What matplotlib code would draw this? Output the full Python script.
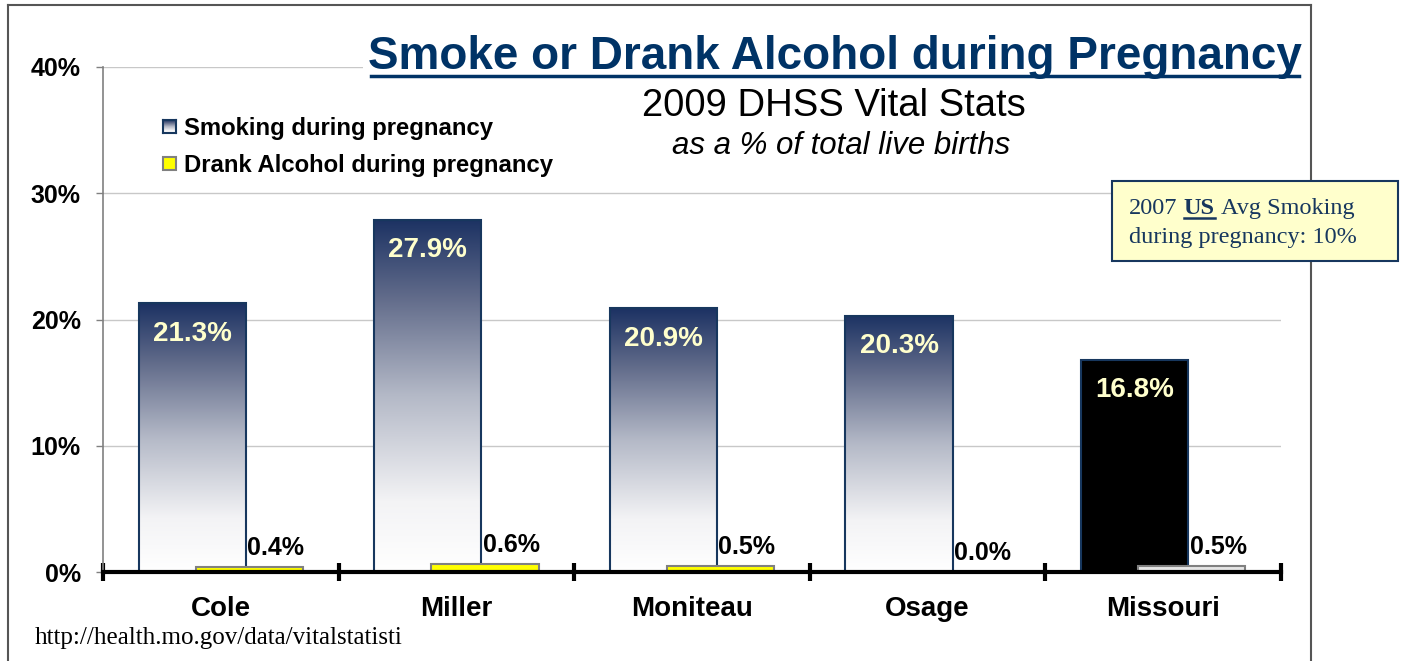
import numpy as np
import matplotlib
matplotlib.use('Agg')
from matplotlib import pyplot as plt
from matplotlib.colors import LinearSegmentedColormap
from matplotlib.patches import Rectangle
from matplotlib.lines import Line2D

# data
counties = ['Cole', 'Miller', 'Moniteau', 'Osage', 'Missouri']
smoking = [21.3, 27.9, 20.9, 20.3, 16.8]
alcohol = [0.4, 0.6, 0.5, 0.0, 0.5]
yticks = [0, 10, 20, 30, 40]

W, H = 1401, 661
NAVY = '#17375E'
TITLE_BLUE = '#003366'

plt.rcParams['font.family'] = ['Liberation Sans', 'DejaVu Sans']

fig = plt.figure(figsize=(W / 100, H / 100), dpi=100)
fig.patch.set_facecolor('white')


def fx(px):
    return px / W


def fy(py):
    return 1 - py / H


ax = fig.add_axes([fx(103), fy(572), fx(1281) - fx(103), fy(67) - fy(572)])
ax.set_xlim(-0.5, len(counties) - 0.5)
ax.set_ylim(0, 40)

grad = LinearSegmentedColormap.from_list(
    'smk', [(0, '#FFFFFF'), (0.2, '#F3F3F5'), (0.5, '#B4B9C7'),
            (0.78, '#616B8A'), (1, '#1C3263')])
ramp = np.linspace(1, 0, 256).reshape(-1, 1)

bw = 0.455
off = 0.121
x = np.arange(len(counties))

for i, v in enumerate(smoking):
    x0 = x[i] - off - bw / 2
    if counties[i] == 'Missouri':
        ax.bar(x[i] - off, v, bw, color='black', edgecolor=NAVY,
               linewidth=1.5, zorder=3)
    else:
        ax.imshow(ramp, cmap=grad, aspect='auto', extent=[x0, x0 + bw, 0, v],
                  zorder=2, interpolation='bilinear')
        ax.bar(x[i] - off, v, bw, fill=False, edgecolor=NAVY,
               linewidth=1.5, zorder=3)
    ax.annotate(f'{v:.1f}%', (x[i] - off, v), xytext=(0, -22),
                textcoords='offset points', ha='center', va='center',
                color='#FFFFCC', fontsize=20, fontweight='bold', zorder=5)

for i, v in enumerate(alcohol):
    fc = '#E6E6E6' if counties[i] == 'Missouri' else '#FFFF00'
    if v > 0:
        ax.bar(x[i] + off, v, bw, color=fc, edgecolor='#808080',
               linewidth=1.5, zorder=4)
    ax.annotate(f'{v:.1f}%', (x[i] + off, v), xytext=(19, 5),
                textcoords='offset points', ha='center', va='bottom',
                color='black', fontsize=18, fontweight='bold', zorder=5)

# axes styling
ax.set_yticks(yticks)
ax.set_yticklabels([f'{t}%' for t in yticks], fontsize=18, fontweight='bold')
ax.tick_params(axis='y', length=5, color='#808080', width=1, pad=11)
ax.yaxis.grid(True, color='#C8C8C8', linewidth=1)
ax.set_axisbelow(True)

ax.set_xticks(x)
ax.set_xticklabels(counties, fontsize=20, fontweight='bold')
ax.set_xticks(np.arange(-0.5, len(counties)), minor=True)
ax.tick_params(axis='x', which='major', length=0, pad=17)
ax.tick_params(axis='x', which='minor', direction='inout', length=13,
               width=3, color='black')

for s in ['top', 'right']:
    ax.spines[s].set_visible(False)
ax.spines['left'].set_color('#808080')
ax.spines['left'].set_linewidth(1.2)
ax.spines['bottom'].set_color('black')
ax.spines['bottom'].set_linewidth(3)
ax.spines['bottom'].set_zorder(6)

# outer frame (open at the bottom)
frame = dict(color='#555555', linewidth=1.5, transform=fig.transFigure)
fig.add_artist(Line2D([fx(8), fx(8)], [0, fy(5)], **frame))
fig.add_artist(Line2D([fx(8), fx(1311)], [fy(5), fy(5)], **frame))
fig.add_artist(Line2D([fx(1311), fx(1311)], [fy(5), 0], **frame))

# title
title = fig.text(fx(835), fy(69), 'Smoke or Drank Alcohol during Pregnancy',
                 ha='center', va='baseline', fontsize=33, fontweight='bold',
                 color=TITLE_BLUE,
                 bbox=dict(facecolor='white', edgecolor='none', pad=4))
fig.text(fx(834), fy(116), '2009 DHSS Vital Stats', ha='center',
         va='baseline', fontsize=27.5, color='black')
fig.text(fx(841), fy(154), 'as a % of total live births', ha='center',
         va='baseline', fontsize=22.5, style='italic', color='black')

# legend
leg_ax = fig.add_axes([fx(163), fy(133), fx(176) - fx(163), fy(120) - fy(133)])
leg_ax.imshow(ramp, cmap=grad, aspect='auto', extent=[0, 1, 0, 1])
leg_ax.set_xticks([])
leg_ax.set_yticks([])
for s in leg_ax.spines.values():
    s.set_color(NAVY)
    s.set_linewidth(1.5)
fig.add_artist(Rectangle((fx(163), fy(170)), fx(176) - fx(163),
                         fy(157) - fy(170), facecolor='#FFFF00',
                         edgecolor='#808080', linewidth=1.5,
                         transform=fig.transFigure))
fig.text(fx(184), fy(135), 'Smoking during pregnancy', fontsize=17.2,
         fontweight='bold', va='baseline')
fig.text(fx(184), fy(172), 'Drank Alcohol during pregnancy', fontsize=17.2,
         fontweight='bold', va='baseline')

# US average box
fig.add_artist(Rectangle((fx(1112), fy(261)), fx(1398) - fx(1112),
                         fy(181) - fy(261), facecolor='#FFFFCC',
                         edgecolor=NAVY, linewidth=1.5,
                         transform=fig.transFigure, zorder=10))
serif = dict(family=['Liberation Serif', 'DejaVu Serif'], fontsize=17.5,
             color=NAVY, zorder=11)
t1 = fig.text(fx(1129), fy(214), '2007', va='baseline', **serif)
us = plt.annotate('US', xy=(1, 0), xycoords=t1, xytext=(4.4, 0),
                  textcoords='offset points', va='bottom', fontweight='bold',
                  annotation_clip=False, **serif)
fig.add_artist(us)
rest = plt.annotate('Avg Smoking', xy=(1, 0), xycoords=us, xytext=(4.4, 0),
                    textcoords='offset points', va='bottom',
                    annotation_clip=False, **serif)
fig.add_artist(rest)
fig.text(fx(1129), fy(243), 'during pregnancy: 10%', va='baseline', **serif)

# source
fig.text(fx(35), fy(644), 'http://health.mo.gov/data/vitalstatisti',
         family=['Liberation Serif', 'DejaVu Serif'], fontsize=18,
         va='baseline')

# underlines (matplotlib has no underline style)
fig.canvas.draw()
r = fig.canvas.get_renderer()
bb = title.get_window_extent(r)
fig.add_artist(Line2D([bb.x0 / W + 0.002, bb.x1 / W - 0.002], [fy(76), fy(76)],
                      color=TITLE_BLUE, linewidth=2.5,
                      transform=fig.transFigure, zorder=12))
bb = us.get_window_extent(r)
fig.add_artist(Line2D([bb.x0 / W, bb.x1 / W], [fy(218), fy(218)],
                      color=NAVY, linewidth=1.8,
                      transform=fig.transFigure, zorder=12))

fig.savefig('out.png', dpi=100)
